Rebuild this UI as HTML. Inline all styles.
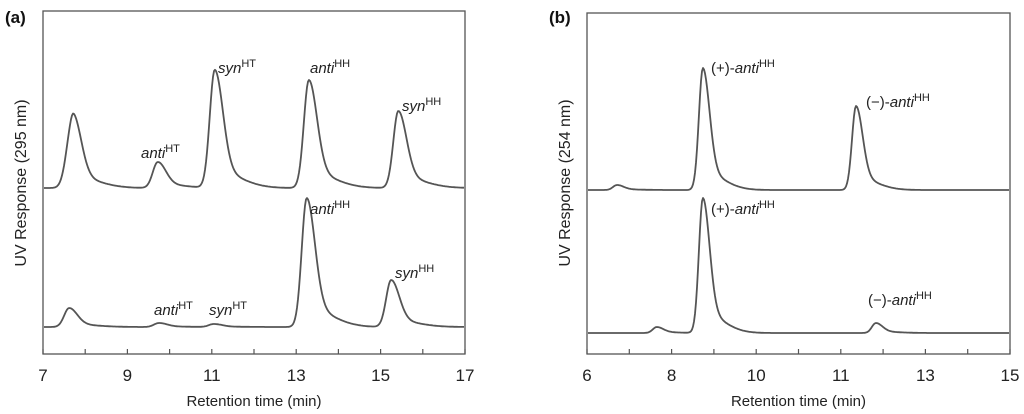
<!DOCTYPE html>
<html><head><meta charset="utf-8">
<style>
body{margin:0;background:#fff;}
svg{display:block;font-family:"Liberation Sans",Arial,sans-serif;}
</style></head>
<body>
<svg id="chart" width="1024" height="414" viewBox="0 0 1024 414"></svg>
<script>
// ---- Panel (a) data ----
const aTickLabels = [7, 9, 11, 13, 15, 17];
const aTopPeakTimes = [7.6, 7.73, 9.72, 11.07, 13.3, 15.42];
const aTopPeakHeights = [20, 58, 26, 118, 108, 77];
const aBotPeakTimes = [7.62, 9.75, 11.05, 13.25, 15.25];
const aBotPeakHeights = [19, 4, 3, 129, 47];
// ---- Panel (b) data ----
const bTickLabels = [6, 8, 10, 11, 13, 15];
const bTopPeakTimes = [6.71, 8.74, 11.36];
const bTopPeakHeights = [5, 122, 84];
const bBotPeakTimes = [7.65, 8.74, 11.83];
const bBotPeakHeights = [6, 135, 10];

const NS = "http://www.w3.org/2000/svg";
const svg = document.getElementById("chart");
function mk(tag, attrs, parent){const e=document.createElementNS(NS,tag);for(const k in attrs)e.setAttribute(k,attrs[k]);(parent||svg).appendChild(e);return e;}

const aX = t => 43 + (t - 7) * 42.2;
function bX(t){
  const L=bTickLabels;
  for(let i=0;i<L.length-1;i++){ if(t<=L[i+1]||i===L.length-2){ return 587 + (i*2 + 2*(t-L[i])/(L[i+1]-L[i]))*42.3; } }
}
function trace(xf, x0, x1, base, times, heights, sL, sR){
  let d="";
  for(let px=x0;px<=x1;px+=1){
    let y=0;
    for(let i=0;i<times.length;i++){
      const c=xf(times[i]);const dx=px-c;
      let v;
      if(dx<0){v=Math.exp(-dx*dx/(2*sL*sL));}
      else{v=0.85*Math.exp(-dx*dx/(2*sR*sR))+0.15*Math.exp(-dx*dx/(2*(3*sR)*(3*sR)));}
      y+=heights[i]*v;
    }
    d+=(px===x0?"M":"L")+px+","+(base-y).toFixed(1);
  }
  return d;
}
function panel(name, x0, x1, top, bottom, labels, xf, label, ylab, xTicksN){
  const g=mk("g",{});
  
  
  const frame=mk("rect",{x:x0,y:top,width:x1-x0,height:bottom-top,fill:"none",stroke:"#555","stroke-width":1.3},g);
  
  
  const step=(x1-x0)/xTicksN;
  for(let i=0;i<=xTicksN;i++){
    const tk=mk("line",{x1:x0+i*step,x2:x0+i*step,y1:bottom,y2:bottom-5,stroke:"#555","stroke-width":1.2},g);
    
    
  }
  labels.forEach((v,i)=>{
    const t=mk("text",{x:x0+i*2*step,y:381,"font-size":17,"text-anchor":"middle",fill:"#222"},g);
    t.textContent=v;
    
    
  });
  const xt=mk("text",{x:(x0+x1)/2,y:406,"font-size":15,"text-anchor":"middle",fill:"#222"},g);
  xt.textContent="Retention time (min)";
  
  
  const yt=mk("text",{x:0,y:0,"font-size":16,"text-anchor":"middle",fill:"#222",transform:`translate(${x0-17},183) rotate(-90)`},g);
  yt.textContent=ylab;
  
  
  const pl=mk("text",{x:x0-38,y:23,"font-size":17,"font-weight":"bold",fill:"#111"},g);
  pl.textContent=label;
  
  
  return g;
}
const ga=panel("panel-a",43,465,11,354,aTickLabels,aX,"(a)","UV Response (295 nm)",10);
const gb=panel("panel-b",587,1010,13,354,bTickLabels,bX,"(b)","UV Response (254 nm)",10);

function line(g,d,name){const p=mk("path",{d:d,fill:"none",stroke:"#555","stroke-width":1.8,"stroke-linejoin":"round"},g);
  
  }
line(ga,trace(aX,44,464,188,aTopPeakTimes,aTopPeakHeights,5,8),"trace-a-top");
line(ga,trace(aX,44,464,327,aBotPeakTimes,aBotPeakHeights,5,8),"trace-a-bottom");
line(gb,trace(bX,588,1009,190,bTopPeakTimes,bTopPeakHeights,4,6.5),"trace-b-top");
line(gb,trace(bX,588,1009,333,bBotPeakTimes,bBotPeakHeights,4,6.5),"trace-b-bottom");

function ann(g,x,y,pre,it,sup){
  const t=mk("text",{x:x,y:y,"font-size":15,fill:"#222"},g);
  
  
  if(pre){const a=mk("tspan",{},t);a.textContent=pre;}
  const b=mk("tspan",{"font-style":"italic"},t);b.textContent=it;
  const c=mk("tspan",{"font-size":11,dy:-6},t);c.textContent=sup;
}
ann(ga,141,158,"","anti","HT");
ann(ga,218,73,"","syn","HT");
ann(ga,310,73,"","anti","HH");
ann(ga,402,111,"","syn","HH");
ann(ga,310,214,"","anti","HH");
ann(ga,395,278,"","syn","HH");
ann(ga,154,315,"","anti","HT");
ann(ga,209,315,"","syn","HT");
ann(gb,711,73,"(+)-","anti","HH");
ann(gb,866,107,"(−)-","anti","HH");
ann(gb,711,214,"(+)-","anti","HH");
ann(gb,868,305,"(−)-","anti","HH");
</script>
</body></html>
